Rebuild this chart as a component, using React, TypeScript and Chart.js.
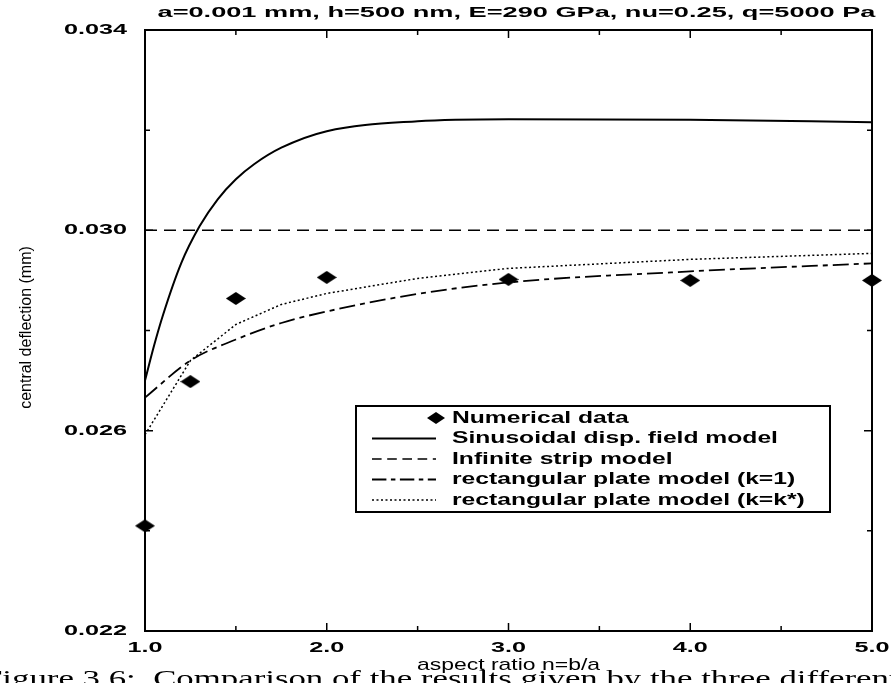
import { useEffect, useRef } from 'react';
import { Chart, registerables } from 'chart.js';
Chart.register(...registerables);

// ---- data ----
const numericalN = [1.0, 1.25, 1.5, 2.0, 3.0, 4.0, 5.0];
const numericalValues = [0.0241, 0.02698, 0.02864, 0.02906, 0.02902, 0.0290, 0.0290];
const sinusoidalN = [1.0, 1.05, 1.1, 1.2, 1.3, 1.4, 1.5, 1.6, 1.75, 2.0, 2.5, 3.0, 4.0, 5.0];
const sinusoidalValues = [0.0270, 0.0277, 0.02832, 0.02935, 0.03008, 0.03062, 0.03102, 0.03132, 0.03165, 0.03198, 0.03218, 0.03222, 0.03221, 0.03216];
const stripN = [1.0, 5.0];
const stripValues = [0.030, 0.030];
const plateN = [1.0, 1.25, 1.5, 1.75, 2.0, 2.5, 3.0, 4.0, 5.0];
const plateK1Values = [0.02666, 0.0274, 0.02782, 0.02815, 0.02838, 0.02873, 0.02896, 0.02918, 0.02934];
const plateKStarValues = [0.02592, 0.0274, 0.02812, 0.02852, 0.02874, 0.02904, 0.02924, 0.02942, 0.02954];

const xTickValues = [1.0, 1.5, 2.0, 2.5, 3.0, 3.5, 4.0, 4.5, 5.0];
const xTickLabels = ['1.0', '', '2.0', '', '3.0', '', '4.0', '', '5.0'];
const yTickValues = [0.022, 0.024, 0.026, 0.028, 0.030, 0.032, 0.034];
const yTickLabels = ['0.022', '', '0.026', '', '0.030', '', '0.034'];

const legendLabels = [
  'Numerical data',
  'Sinusoidal disp. field model',
  'Infinite strip model',
  'rectangular plate model (k=1)',
  'rectangular plate model (k=k*)',
];
const titleText = 'a=0.001 mm, h=500 nm, E=290 GPa, nu=0.25, q=5000 Pa';
const xTitle = 'aspect ratio n=b/a';
const yTitle = 'central deflection (mm)';
const captionText = 'Figure 3.6:  Comparison of the results given by the three different';

const toPoints = (xs: number[], ys: number[]) => xs.map((x, i) => ({ x, y: ys[i] }));

const DASH_STRIP = [12, 7];
const DASH_K1 = [16, 5, 5, 5];
const DASH_KSTAR = [2, 2.5];

function drawText(ctx: CanvasRenderingContext2D, text: string, x: number, y: number, font: string, sx: number, align: 'left' | 'center' | 'right', baseline: CanvasTextBaseline = 'middle') {
  ctx.save();
  ctx.font = font;
  ctx.textBaseline = baseline;
  ctx.textAlign = 'left';
  ctx.fillStyle = '#000';
  const w = ctx.measureText(text).width * sx;
  const left = align === 'center' ? x - w / 2 : align === 'right' ? x - w : x;
  ctx.translate(left, y);
  ctx.scale(sx, 1);
  ctx.fillText(text, 0, 0);
  ctx.restore();
}

function makeDiamond(w: number, h: number) {
  const c = document.createElement('canvas');
  c.width = w;
  c.height = h;
  const g = c.getContext('2d')!;
  g.fillStyle = '#000';
  g.beginPath();
  g.moveTo(w / 2, 0);
  g.lineTo(w, h / 2);
  g.lineTo(w / 2, h);
  g.lineTo(0, h / 2);
  g.closePath();
  g.fill();
  return c;
}

export default function App() {
  const ref = useRef<HTMLCanvasElement>(null);

  useEffect(() => {
    const canvas = ref.current;
    if (!canvas) return;
    const diamond = makeDiamond(20, 13);
    const legendDiamond = makeDiamond(18, 12);

    const decor = {
      id: 'decor',
      afterDatasetsDraw(chart: any) {
        const ctx: CanvasRenderingContext2D = chart.ctx;
        const { left, right, top, bottom } = chart.chartArea;
        const xs = chart.scales.x;
        const ys = chart.scales.y;
        ctx.save();
        ctx.strokeStyle = '#000';
        ctx.setLineDash([]);
        // frame
        ctx.lineWidth = 2;
        ctx.strokeRect(left, top, right - left, bottom - top);
        // inward ticks
        ctx.lineWidth = 1.5;
        xTickValues.forEach((v, i) => {
          const px = xs.getPixelForValue(v);
          const len = xTickLabels[i] ? 8 : 5;
          ctx.beginPath();
          ctx.moveTo(px, bottom);
          ctx.lineTo(px, bottom - len);
          ctx.moveTo(px, top);
          ctx.lineTo(px, top + len);
          ctx.stroke();
        });
        yTickValues.forEach((v, i) => {
          const py = ys.getPixelForValue(v);
          const len = yTickLabels[i] ? 8 : 5;
          ctx.beginPath();
          ctx.moveTo(left, py);
          ctx.lineTo(left + len, py);
          ctx.moveTo(right, py);
          ctx.lineTo(right - len, py);
          ctx.stroke();
        });
        ctx.restore();

        // tick labels
        const tickFont = 'bold 14px "Liberation Sans", Arial, sans-serif';
        xTickValues.forEach((v, i) => {
          if (!xTickLabels[i]) return;
          drawText(ctx, xTickLabels[i], xs.getPixelForValue(v), bottom + 17, tickFont, 1.8, 'center');
        });
        yTickValues.forEach((v, i) => {
          if (!yTickLabels[i]) return;
          drawText(ctx, yTickLabels[i], left - 18, ys.getPixelForValue(v), tickFont, 1.8, 'right');
        });

        // title
        drawText(ctx, titleText, (left + right) / 2 + 8, 13, 'bold 14px "Liberation Sans", Arial, sans-serif', 1.94, 'center');
        // x title
        drawText(ctx, xTitle, (left + right) / 2, bottom + 34, '17px "Liberation Sans", Arial, sans-serif', 1.35, 'center');
        // y title (rotated)
        ctx.save();
        ctx.translate(27, (top + bottom) / 2 - 3);
        ctx.rotate(-Math.PI / 2);
        ctx.font = '16px "Liberation Sans", Arial, sans-serif';
        ctx.textAlign = 'center';
        ctx.textBaseline = 'middle';
        ctx.fillStyle = '#000';
        ctx.fillText(yTitle, 0, 0);
        ctx.restore();

        // legend
        const lx = left + 211;
        const ly = top + 376;
        const lw = 474;
        const lh = 106;
        ctx.save();
        ctx.fillStyle = '#fff';
        ctx.fillRect(lx, ly, lw, lh);
        ctx.strokeStyle = '#000';
        ctx.lineWidth = 2;
        ctx.strokeRect(lx, ly, lw, lh);
        const rowY = (i: number) => ly + 12 + i * 20.5;
        const lineL = lx + 16;
        const lineR = lx + 80;
        ctx.drawImage(legendDiamond, lineR - 9, rowY(0) - 6);
        const styles: [number[], number][] = [[[], 2], [DASH_STRIP.map(d => d * 0.8), 1.5], [DASH_K1.map(d => d * 0.9), 1.8], [DASH_KSTAR, 1.4]];
        styles.forEach(([dash, lwid], k) => {
          const y = rowY(k + 1);
          ctx.beginPath();
          ctx.setLineDash(dash);
          ctx.lineWidth = lwid;
          ctx.moveTo(lineL, y);
          ctx.lineTo(lineR, y);
          ctx.stroke();
        });
        ctx.restore();
        legendLabels.forEach((t, i) => {
          drawText(ctx, t, lineR + 16, rowY(i), 'bold 17px "Liberation Sans", Arial, sans-serif', 1.45, 'left');
        });

        // caption (cut by page bottom)
        drawText(ctx, captionText, -17, chart.height + 3, '24px "Liberation Serif", "Times New Roman", serif', 1.45, 'left', 'alphabetic');
      },
    };

    const chart = new Chart(canvas, {
      type: 'scatter',
      data: {
        datasets: [
          {
            label: legendLabels[0],
            data: toPoints(numericalN, numericalValues),
            pointStyle: diamond as any,
            pointRadius: 8,
            showLine: false,
            clip: false as any,
            backgroundColor: '#000',
            borderColor: '#000',
          },
          {
            label: legendLabels[1],
            data: toPoints(sinusoidalN, sinusoidalValues),
            showLine: true,
            pointRadius: 0,
            borderColor: '#000',
            borderWidth: 2,
            cubicInterpolationMode: 'monotone',
          },
          {
            label: legendLabels[2],
            data: toPoints(stripN, stripValues),
            showLine: true,
            pointRadius: 0,
            borderColor: '#000',
            borderWidth: 1.5,
            borderDash: DASH_STRIP,
          },
          {
            label: legendLabels[3],
            data: toPoints(plateN, plateK1Values),
            showLine: true,
            pointRadius: 0,
            borderColor: '#000',
            borderWidth: 1.8,
            borderDash: DASH_K1,
            cubicInterpolationMode: 'monotone',
          },
          {
            label: legendLabels[4],
            data: toPoints(plateN, plateKStarValues),
            showLine: true,
            pointRadius: 0,
            borderColor: '#000',
            borderWidth: 1.5,
            borderDash: DASH_KSTAR,
          },
        ],
      },
      options: {
        animation: false,
        responsive: false,
        devicePixelRatio: 1,
        layout: { padding: { left: 145, right: 19, top: 30, bottom: 52 } },
        scales: {
          x: { type: 'linear', min: 1, max: 5, display: false },
          y: { type: 'linear', min: 0.022, max: 0.034, display: false },
        },
        plugins: {
          legend: { display: false },
          tooltip: { enabled: false },
          title: { display: false },
        },
      },
      plugins: [decor],
    });
    return () => chart.destroy();
  }, []);

  return (
    <div style={{ position: 'fixed', left: 0, top: 0, width: 891, height: 683, background: '#fff' }}>
      <canvas ref={ref} width={891} height={683} style={{ display: 'block', width: 891, height: 683 }} />
    </div>
  );
}
